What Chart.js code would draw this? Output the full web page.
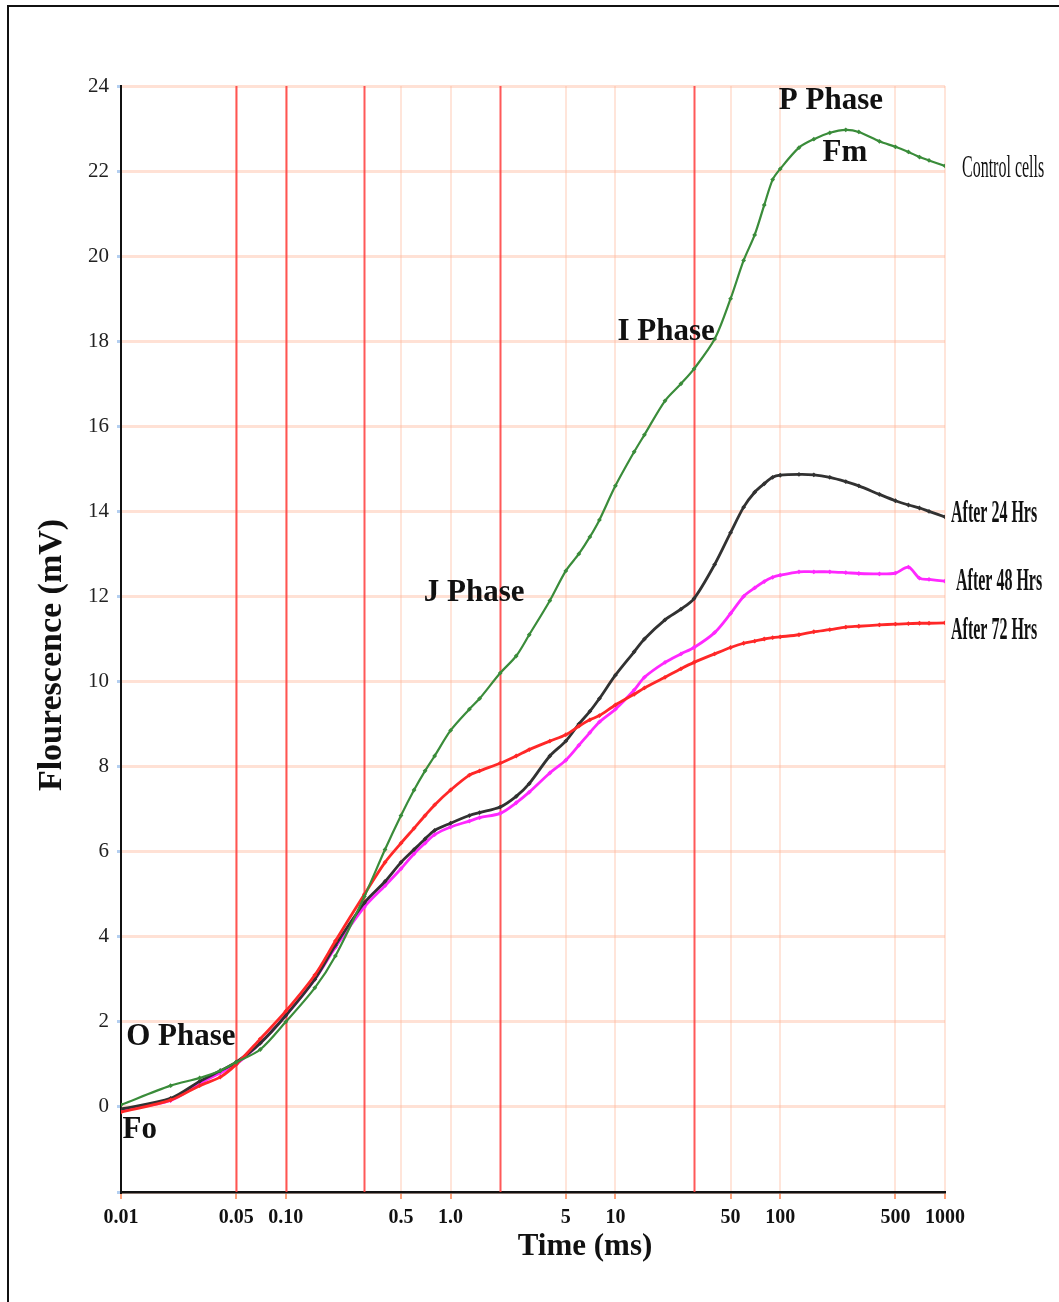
<!DOCTYPE html>
<html>
<head>
<meta charset="utf-8">
<title>Chlorophyll fluorescence OJIP transient</title>
<script src="https://cdn.jsdelivr.net/npm/chart.js@4.4.1/dist/chart.umd.min.js"></script>
<style>
  html, body { margin: 0; padding: 0; background: #fff; }
  #wrap { position: relative; width: 1059px; height: 1302px; overflow: hidden; }
  #frame { position: absolute; left: 7px; top: 5px; width: 1100px; height: 1400px; border: 2px solid #111; box-sizing: border-box; }
  #chart { position: absolute; left: 0; top: 0; }
</style>
</head>
<body>
<div id="wrap">
  <div id="frame"></div>
  <canvas id="chart" width="1059" height="1302"></canvas>
</div>
<script>
// OJIP fluorescence transients - Chart.js, log time axis

const TIME_MS = [0.01, 0.02, 0.03, 0.04, 0.05, 0.07, 0.1, 0.15, 0.2, 0.3, 0.4, 0.5, 0.6, 0.7, 0.8, 1.0, 1.3, 1.5,
  2, 2.5, 3, 4, 5, 6, 7, 8, 10, 13, 15, 20, 25, 30, 40, 50, 60, 70, 80, 90, 100, 130, 160, 200, 250, 300,
  400, 500, 600, 700, 800, 1000];

const CONTROL = [0.05, 0.5, 0.68, 0.85, 1.05, 1.35, 2.0, 2.8, 3.55, 4.95, 6.05, 6.85, 7.45, 7.9, 8.25, 8.85, 9.35, 9.6,
  10.2, 10.6, 11.1, 11.9, 12.6, 13.0, 13.4, 13.8, 14.6, 15.4, 15.8, 16.6, 17.0, 17.35, 18.05, 19.0, 19.9, 20.5, 21.2,
  21.8, 22.05, 22.55, 22.75, 22.9, 22.97, 22.92, 22.7, 22.57, 22.45, 22.33, 22.25, 22.12];

const AFTER_24H = [-0.05, 0.2, 0.6, 0.85, 1.05, 1.5, 2.15, 3.0, 3.8, 4.8, 5.3, 5.75, 6.05, 6.3, 6.5, 6.67, 6.85, 6.92,
  7.05, 7.3, 7.6, 8.25, 8.6, 9.0, 9.3, 9.6, 10.15, 10.7, 11.0, 11.45, 11.7, 11.95, 12.75, 13.5, 14.1, 14.45, 14.65,
  14.8, 14.85, 14.87, 14.86, 14.8, 14.7, 14.6, 14.4, 14.25, 14.15, 14.08, 14.0, 13.87];

const AFTER_48H = [-0.08, 0.15, 0.55, 0.8, 1.0, 1.5, 2.15, 3.0, 3.75, 4.7, 5.2, 5.6, 5.95, 6.2, 6.4, 6.58, 6.72, 6.8,
  6.9, 7.15, 7.4, 7.85, 8.15, 8.5, 8.8, 9.05, 9.35, 9.8, 10.1, 10.45, 10.65, 10.8, 11.15, 11.6, 12.0, 12.2, 12.35,
  12.45, 12.5, 12.58, 12.58, 12.58, 12.56, 12.54, 12.53, 12.55, 12.69, 12.43, 12.4, 12.36];

const AFTER_72H = [-0.12, 0.16, 0.5, 0.7, 1.0, 1.6, 2.25, 3.1, 3.9, 5.0, 5.75, 6.2, 6.55, 6.85, 7.1, 7.45, 7.8, 7.9,
  8.08, 8.25, 8.4, 8.6, 8.75, 8.95, 9.1, 9.2, 9.45, 9.7, 9.85, 10.1, 10.3, 10.45, 10.65, 10.8, 10.9, 10.95, 11.0,
  11.03, 11.05, 11.1, 11.17, 11.22, 11.28, 11.3, 11.33, 11.35, 11.36, 11.37, 11.37, 11.38];

const SERIES_NAMES = ['Control cells', 'After 24 Hrs', 'After 48 Hrs', 'After 72 Hrs'];

const X_TICKS = [0.01, 0.05, 0.1, 0.5, 1, 5, 10, 50, 100, 500, 1000];
const X_TICK_LABELS = ['0.01', '0.05', '0.10', '0.5', '1.0', '5', '10', '50', '100', '500', '1000'];

// red vertical lines separating the phases (ms)
const PHASE_LINES = [0.05, 0.1, 0.3, 2, 30];

const PHASE_TEXT = ['P Phase', 'Fm', 'I Phase', 'J Phase', 'O Phase', 'Fo'];
const PHASE_TEXT_AT_MS = [203, 247, 20.3, 1.39, 0.0231, 0.013];
const PHASE_TEXT_AT_MV = [23.65, 22.43, 18.22, 12.08, 1.65, -0.54];

const SERIF = '"Liberation Serif", "DejaVu Serif", serif';

function toPoints(values) {
  return TIME_MS.map((t, i) => ({ x: t, y: values[i] }));
}

function lineSet(label, values, color, width, order) {
  return {
    label: label,
    data: toPoints(values),
    borderColor: color,
    backgroundColor: color,
    borderWidth: width,
    pointStyle: 'rectRot',
    pointRadius: 2.4,
    pointBorderWidth: 0,
    tension: 0.3,
    order: order
  };
}

// phase lines, axis titles and the text written on the plot
const decorations = {
  id: 'decorations',
  beforeDatasetsDraw(chart) {
    const { ctx, chartArea, scales } = chart;
    ctx.save();
    ctx.strokeStyle = 'rgba(255, 60, 60, 0.85)';
    ctx.lineWidth = 2;
    PHASE_LINES.forEach(v => {
      const x = Math.round(scales.x.getPixelForValue(v)) + 0.5;
      ctx.beginPath();
      ctx.moveTo(x, chartArea.top);
      ctx.lineTo(x, chartArea.bottom);
      ctx.stroke();
    });
    ctx.restore();
  },
  afterDraw(chart) {
    const { ctx, chartArea, scales } = chart;
    ctx.save();
    ctx.fillStyle = '#111';
    ctx.textBaseline = 'middle';

    // phase names
    ctx.font = 'bold 31px ' + SERIF;
    ctx.textAlign = 'center';
    PHASE_TEXT.forEach((txt, i) => {
      ctx.fillText(txt, scales.x.getPixelForValue(PHASE_TEXT_AT_MS[i]), scales.y.getPixelForValue(PHASE_TEXT_AT_MV[i]));
    });

    // series names at the line ends, tall condensed type
    const ends = [CONTROL, AFTER_24H, AFTER_48H, AFTER_72H];
    const dx = [17, 6, 11, 6];
    const dy = [3, -3, 1, 8];
    ctx.textAlign = 'left';
    SERIES_NAMES.forEach((name, i) => {
      const vals = ends[i];
      const y = scales.y.getPixelForValue(vals[vals.length - 1]) + dy[i];
      const x = chartArea.right + dx[i];
      ctx.save();
      ctx.translate(x, y);
      ctx.scale(0.5, 1);
      ctx.font = (i === 0 ? '' : 'bold ') + '32px ' + SERIF;
      ctx.fillText(name, 0, 0);
      ctx.restore();
    });

    // axis titles
    ctx.font = 'bold 31px ' + SERIF;
    ctx.textAlign = 'center';
    ctx.fillText('Time (ms)', 585, 1247);
    ctx.save();
    ctx.translate(52, 655);
    ctx.rotate(-Math.PI / 2);
    ctx.font = 'bold 34px ' + SERIF;
    ctx.fillText('Flourescence (mV)', 0, 0);
    ctx.restore();

    ctx.restore();
  }
};

const chart = new Chart(document.getElementById('chart'), {
  type: 'line',
  data: {
    datasets: [
      lineSet(SERIES_NAMES[0], CONTROL, 'rgb(58, 140, 58)', 2.2, 0),
      lineSet(SERIES_NAMES[1], AFTER_24H, 'rgb(50, 50, 50)', 2.8, 2),
      lineSet(SERIES_NAMES[2], AFTER_48H, 'rgb(255, 40, 255)', 2.8, 3),
      lineSet(SERIES_NAMES[3], AFTER_72H, 'rgb(255, 40, 40)', 2.8, 1)
    ]
  },
  options: {
    responsive: false,
    animation: false,
    devicePixelRatio: 1,
    layout: { padding: { top: 86, right: 114, bottom: 0, left: 0 } },
    plugins: {
      legend: { display: false },
      tooltip: { enabled: false }
    },
    scales: {
      x: {
        type: 'logarithmic',
        min: 0.01,
        max: 1000,
        afterBuildTicks: scale => { scale.ticks = X_TICKS.map(v => ({ value: v })); },
        afterFit: scale => { scale.height = 110; },
        ticks: {
          autoSkip: false,
          maxRotation: 0,
          padding: 7,
          color: '#111',
          font: { family: SERIF, size: 20, weight: 'bold' },
          callback: value => {
            const i = X_TICKS.indexOf(value);
            return i >= 0 ? X_TICK_LABELS[i] : '';
          }
        },
        grid: {
          color: 'rgba(255, 180, 150, 0.35)',
          lineWidth: 2,
          tickLength: 7,
          tickColor: 'rgba(255, 140, 90, 0.8)'
        },
        border: { color: '#111', width: 2.5 }
      },
      y: {
        min: -2,
        max: 24,
        afterFit: scale => { scale.width = 121; },
        ticks: {
          stepSize: 2,
          padding: 8,
          color: '#222',
          font: { family: SERIF, size: 21 },
          callback: value => (value < 0 ? '' : value)
        },
        grid: {
          color: 'rgba(255, 180, 150, 0.4)',
          lineWidth: 3,
          tickLength: 4,
          tickColor: 'rgba(130, 175, 230, 0.6)'
        },
        border: { color: '#111', width: 2 }
      }
    }
  },
  plugins: [decorations]
});
</script>
</body>
</html>
